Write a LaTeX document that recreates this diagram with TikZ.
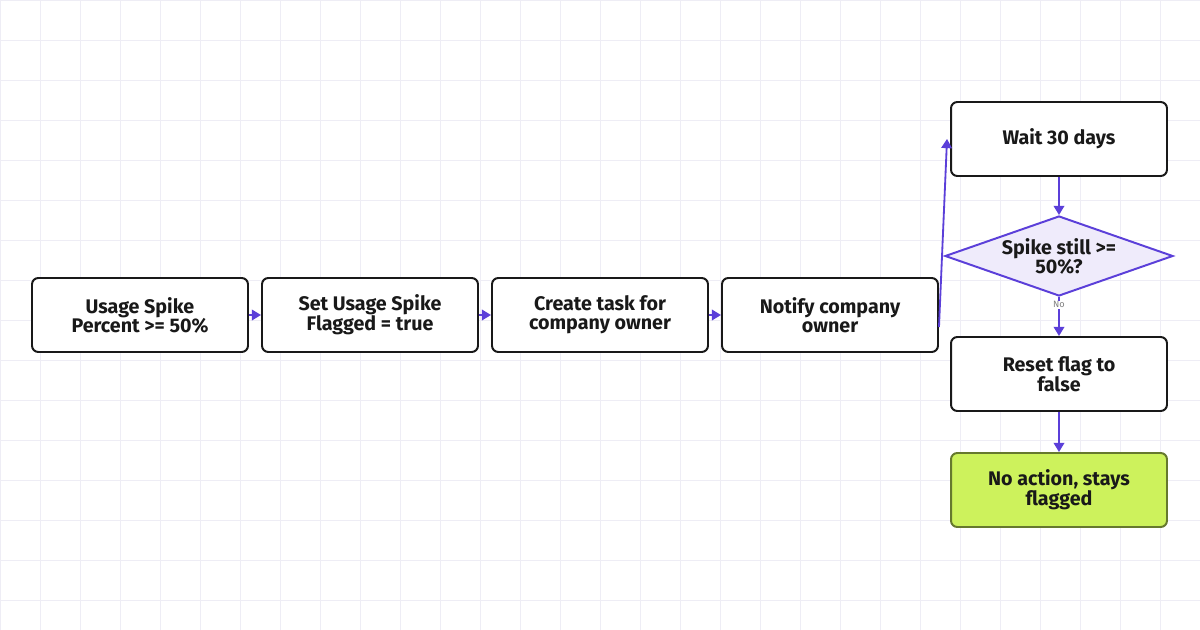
\documentclass[tikz,border=0pt]{standalone}
\usepackage{fontspec}
\setmainfont{Fira Sans}
\usetikzlibrary{shapes.geometric,arrows.meta}
\definecolor{flowline}{HTML}{5B3FD9}
\definecolor{gridline}{HTML}{EEEDF5}
\definecolor{diafill}{HTML}{EFEBFB}
\definecolor{greenbox}{HTML}{CDF25C}
\begin{document}
\begin{tikzpicture}[x=0.05cm,y=-0.05cm,
  stepbox/.style={draw=black!90,line width=2.8pt,rounded corners=9pt,fill=white,
    minimum width=10.8cm,minimum height=3.7cm,align=center,
    font=\fontsize{28}{27}\selectfont\bfseries,text=black!90},
  check/.style={diamond,aspect=2.85,draw=flowline,line width=2.8pt,fill=diafill,
    minimum width=11.4cm,minimum height=4cm,inner sep=0pt,align=center,
    font=\fontsize{28}{27}\selectfont\bfseries,text=black!90},
  flow/.style={draw=flowline,line width=2.6pt,-{Triangle[length=13pt,width=15pt]}}]
\useasboundingbox (0,0) rectangle (1200,630);
\fill[white] (0,0) rectangle (1200,630);
\foreach \x in {0,40,...,1200}
  \draw[gridline,line width=1.2pt] (\x,0) -- (\x,630);
\foreach \y in {0,40,...,640}
  \draw[gridline,line width=1.2pt] (0,\y) -- (1200,\y);

\node[stepbox] (usage) at (140,315) {Usage Spike\\Percent >= 50\%};
\node[stepbox] (setflag) at (370,315) {Set Usage Spike\\Flagged = true};
\node[stepbox] (task) at (600,315) {Create task for\\company owner};
\node[stepbox] (notify) at (830,315) {Notify company\\owner};
\node[stepbox] (wait) at (1059,139) {Wait 30 days};
\node[check] (still) at (1059,256) {Spike still >=\\50\%?};
\node[stepbox] (reset) at (1059,374) {Reset flag to\\false};
\node[stepbox,fill=greenbox,draw=black!50!greenbox] (noact) at (1059,490) {No action, stays\\flagged};

\coordinate (bend) at ([yshift=-0.6cm]notify.east);
\coordinate (waitin) at ([xshift=-0.15cm]wait.west);
\draw[flow] (usage) -- (setflag);
\draw[flow] (setflag) -- (task);
\draw[flow] (task) -- (notify);
\draw[flow] (bend) -- (waitin);
\draw[flow] (wait) -- (still);
\draw[flow] (still) -- node[pos=0.2,fill=white,inner sep=1pt,text=black!50,font=\fontsize{13}{13}\selectfont]{No} (reset);
\draw[flow] (reset) -- (noact);
\end{tikzpicture}
\end{document}
